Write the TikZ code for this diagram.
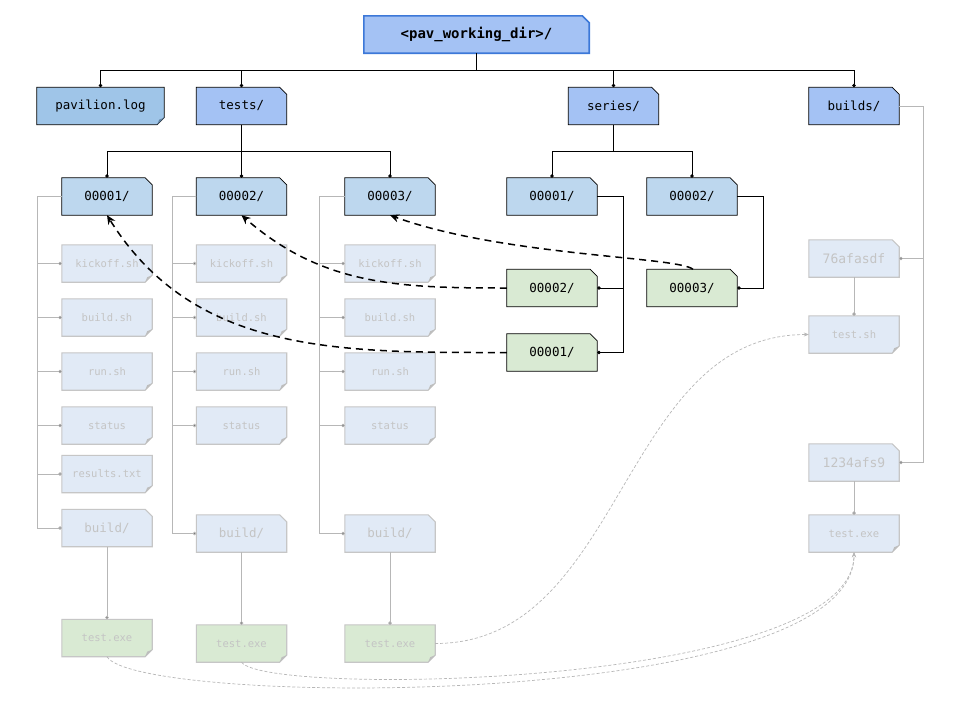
\documentclass[tikz,border=0pt]{standalone}
\usepackage{fontspec}
\usepackage{tikz}
\usetikzlibrary{
    arrows.meta,
    calc,
    positioning
}
\newfontfamily\mono{DejaVu Sans Mono}

\definecolor{rootfill}{HTML}{A4C2F4}
\definecolor{rootline}{HTML}{3C78D8}
\definecolor{logfill}{HTML}{9FC5E8}
\definecolor{logfold}{HTML}{5F7F9E}
\definecolor{dirfill}{HTML}{A4C2F4}
\definecolor{subfill}{HTML}{BDD7EE}
\definecolor{runfill}{HTML}{D9EAD3}
\definecolor{palefill}{HTML}{E1EAF6}
\definecolor{paleline}{HTML}{C6C6C6}
\definecolor{paletext}{HTML}{C4C4C4}
\definecolor{palefold}{HTML}{BDBDBD}
\definecolor{palewire}{HTML}{B7B7B7}

\tikzset{
    box/.style={rectangle, inner sep=0pt, minimum width=90pt, minimum height=37pt,
        font=\mono\fontsize{12.5}{14}\selectfont},
    small/.style={font=\mono\fontsize{10.5}{12}\selectfont},
    darkedge/.style={draw=black, line width=0.8pt},
    rootedge/.style={draw=rootline, line width=1.6pt},
    paleedge/.style={draw=paleline, line width=1.1pt},
    folder/.style n args={3}{box, text=#3,
        append after command={\pgfextra{
            \filldraw[#2, fill=#1] (\tikzlastnode.north west)
                -- ([xshift=-7pt]\tikzlastnode.north east)
                -- ([yshift=-7pt]\tikzlastnode.north east)
                -- (\tikzlastnode.south east) -- (\tikzlastnode.south west) -- cycle;}}},
    file/.style n args={4}{box, text=#3,
        append after command={\pgfextra{
            \filldraw[#2, fill=#1] (\tikzlastnode.north west) -- (\tikzlastnode.north east)
                -- ([yshift=7pt]\tikzlastnode.south east)
                -- ([xshift=-7pt]\tikzlastnode.south east)
                -- (\tikzlastnode.south west) -- cycle;
            \fill[#4] ([yshift=7pt]\tikzlastnode.south east)
                -- ([xshift=-7pt]\tikzlastnode.south east)
                -- ([xshift=-5pt,yshift=5pt]\tikzlastnode.south east) -- cycle;}}},
    dir/.style={folder={dirfill}{darkedge}{black}},
    sub/.style={folder={subfill}{darkedge}{black}},
    run/.style={folder={runfill}{darkedge}{black}},
    pdir/.style={folder={palefill}{paleedge}{paletext}},
    pfile/.style={file={palefill}{paleedge}{paletext}{palefold}, small},
    pexe/.style={file={runfill}{paleedge}{paletext}{palefold}, small},
    wire/.style={line width=0.8pt, every edge/.append style={-{Circle[length=3.5pt]}}},
    palewire/.style={draw=palewire, line width=0.9pt, every edge/.append style={-{Circle[length=3.5pt]}}},
    down/.style={to path={|- ($(\tikztostart)!.5!(\tikztotarget)$) -| (\tikztotarget) \tikztonodes}},
    side/.style={to path={-- ++(#1,0) |- (\tikztotarget) \tikztonodes}},
    link/.style={line width=1.5pt, dash pattern=on 7pt off 5pt, -{Stealth[length=9pt, width=8pt]}},
    palelink/.style={draw=palewire, line width=0.7pt, dash pattern=on 3pt off 2pt,
        -{Stealth[length=5pt, width=4pt]}}
}

\begin{document}
\begin{tikzpicture}[x=1pt, y=1pt]
    \fill[white] (0,0) rectangle (960,-720);
    \useasboundingbox (0,0) rectangle (960,-720);

    \node[folder={rootfill}{rootedge}{black}, minimum width=225pt,
        font=\mono\bfseries\fontsize{14}{16}\selectfont] (root) at (476.5,-34.5) {<pav\_working\_dir>/};

    \node[file={logfill}{darkedge}{black}{logfold}, minimum width=127pt] (log) at (100.5,-106) {pavilion.log};
    \node[dir] (tests) at (241.5,-106) {tests/};
    \node[dir] (series) at (613.5,-106) {series/};
    \node[dir] (builds) at (854,-106) {builds/};

    \node[sub] (t1) at (107,-196.5) {00001/};
    \node[sub] (t2) at (241.5,-196.5) {00002/};
    \node[sub] (t3) at (390,-196.5) {00003/};
    \node[sub] (s1) at (552,-196.5) {00001/};
    \node[sub] (s2) at (692,-196.5) {00002/};

    \node[run] (r2) at (552,-288) {00002/};
    \node[run] (r1) at (552,-352.5) {00001/};
    \node[run] (r3) at (692,-288) {00003/};

    \node[pfile] (kick1) at (107,-263.5) {kickoff.sh};
    \node[pfile] (bsh1) at (107,-317.5) {build.sh};
    \node[pfile] (run1) at (107,-371.5) {run.sh};
    \node[pfile] (stat1) at (107,-425.5) {status};
    \node[pfile] (res1) at (107,-474) {results.txt};
    \node[pdir] (bld1) at (107,-528) {build/};
    \node[pexe] (exe1) at (107,-638) {test.exe};

    \node[pfile] (kick2) at (241.5,-263.5) {kickoff.sh};
    \node[pfile] (bsh2) at (241.5,-317.5) {build.sh};
    \node[pfile] (run2) at (241.5,-371.5) {run.sh};
    \node[pfile] (stat2) at (241.5,-425.5) {status};
    \node[pdir] (bld2) at (241.5,-533.5) {build/};
    \node[pexe] (exe2) at (241.5,-643.5) {test.exe};

    \node[pfile] (kick3) at (390,-263.5) {kickoff.sh};
    \node[pfile] (bsh3) at (390,-317.5) {build.sh};
    \node[pfile] (run3) at (390,-371.5) {run.sh};
    \node[pfile] (stat3) at (390,-425.5) {status};
    \node[pdir] (bld3) at (390,-533.5) {build/};
    \node[pexe] (exe3) at (390,-643.5) {test.exe};

    \node[pdir, font=\mono\fontsize{13}{15}\selectfont] (hash1) at (854,-258.5) {76afasdf};
    \node[pfile] (tsh) at (854,-334.5) {test.sh};
    \node[pdir, font=\mono\fontsize{13}{15}\selectfont] (hash2) at (854,-462.5) {1234afs9};
    \node[pfile] (bexe) at (854,-533.5) {test.exe};

    \draw[wire]
    (root.south) edge[down] (log.north)
    (root.south) edge[down] (tests.north)
    (root.south) edge[down] (series.north)
    (root.south) edge[down] (builds.north)
    (tests.south) edge[down] (t1.north)
    (tests.south) edge[down] (t2.north)
    (tests.south) edge[down] (t3.north)
    (series.south) edge[down] (s1.north)
    (series.south) edge[down] (s2.north)
    (s1.east) edge[side=26] (r2.east)
    (s1.east) edge[side=26] (r1.east)
    (s2.east) edge[side=26] (r3.east);

    \draw[palewire]
    (t1.west) edge[side=-24] (kick1.west)
    (t1.west) edge[side=-24] (bsh1.west)
    (t1.west) edge[side=-24] (run1.west)
    (t1.west) edge[side=-24] (stat1.west)
    (t1.west) edge[side=-24] (res1.west)
    (t1.west) edge[side=-24] (bld1.west)
    (t2.west) edge[side=-24] (kick2.west)
    (t2.west) edge[side=-24] (bsh2.west)
    (t2.west) edge[side=-24] (run2.west)
    (t2.west) edge[side=-24] (stat2.west)
    (t2.west) edge[side=-24] (bld2.west)
    (t3.west) edge[side=-25] (kick3.west)
    (t3.west) edge[side=-25] (bsh3.west)
    (t3.west) edge[side=-25] (run3.west)
    (t3.west) edge[side=-25] (stat3.west)
    (t3.west) edge[side=-25] (bld3.west)
    (bld1.south) edge (exe1.north)
    (bld2.south) edge (exe2.north)
    (bld3.south) edge (exe3.north)
    (builds.east) edge[side=24] (hash1.east)
    (builds.east) edge[side=24] (hash2.east)
    (hash1.south) edge (tsh.north)
    (hash2.south) edge (bexe.north);

    \draw[link] (r1.west) to[out=180, in=-58] (t1.south);
    \draw[link] (r2.west) to[out=180, in=-41] (t2.south);
    \draw[link] ([xshift=1pt]r3.north) to[out=140, in=-20, out distance=20pt, in distance=120pt] (t3.south);

    \draw[palelink] (exe3.east) to[out=0, in=180] (tsh.west);
    \draw[palelink] (exe1.south) .. controls +(30,-50) and +(0,-160) .. (bexe.south);
    \draw[palelink] (exe2.south) .. controls +(25,-35) and +(0,-135) .. (bexe.south);
\end{tikzpicture}
\end{document}
